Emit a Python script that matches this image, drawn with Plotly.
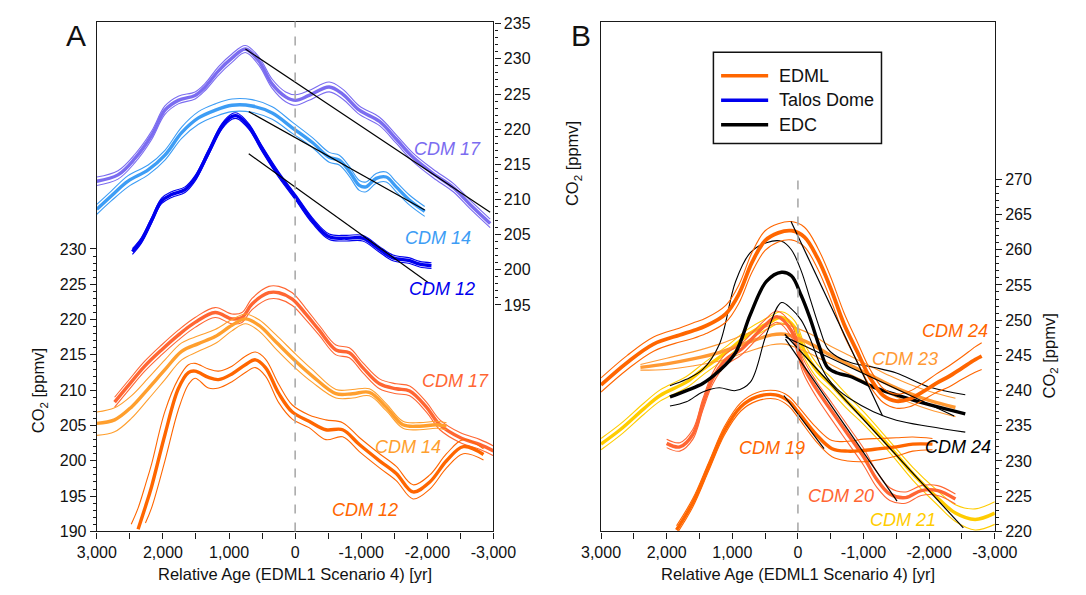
import plotly.graph_objects as go

FONT = "Liberation Sans, Arial, Helvetica, sans-serif"
W, H = 1086, 595

# ---------------- colours ----------------
C_PURPLE = "#7b6cf0"
C_LBLUE = "#3d9df5"
C_BLUE = "#0000ee"
C_ORED = "#ff6633"
C_LORANGE = "#ff9f2e"
C_ORANGE = "#ff6600"
C_YELLOW = "#ffcc00"
C_BLACK = "#000000"

# ---------------- axis ticks ----------------
X_TICKS = [3000, 2000, 1000, 0, -1000, -2000, -3000]
X_TICKTEXT = ["3,000", "2,000", "1,000", "0", "-1,000", "-2,000", "-3,000"]
X_MINOR = [2500, 1500, 500, -500, -1500, -2500]
YA_LEFT_TICKS = [190, 195, 200, 205, 210, 215, 220, 225, 230]
YA_RIGHT_TICKS = [195, 200, 205, 210, 215, 220, 225, 230, 235]
YB_RIGHT_TICKS = [220, 225, 230, 235, 240, 245, 250, 255, 260, 265, 270]

# ================= PANEL A : Talos Dome (right axis) =================
A_T17_age = [3000, 2680, 2427, 2173, 1970, 1768, 1514, 1362, 1159, 956, 753, 550, 347, 144, -8, -210,
             -515, -718, -971, -1276, -1529, -1783, -2087, -2391, -2645, -2950]
A_T17_mid = [212.6, 213.5, 215.8, 219.1, 222.7, 224.1, 224.8, 226.0, 228.3, 230.1, 231.4, 229.7, 226.4,
             224.6, 224.1, 224.8, 226.0, 225.0, 222.7, 221.1, 218.6, 216.0, 213.7, 211.7, 209.3, 206.6]
A_T17_hi = [213.2, 214.1, 216.4, 219.7, 223.3, 224.7, 225.3, 226.5, 228.9, 230.7, 231.9, 230.3, 227.1,
            225.3, 224.9, 225.5, 226.7, 225.7, 223.3, 221.7, 219.2, 216.6, 214.3, 212.3, 209.9, 207.2]
A_T17_lo = [212.0, 212.9, 215.2, 218.5, 222.1, 223.6, 224.3, 225.5, 227.7, 229.5, 230.9, 229.1, 225.8,
            223.9, 223.4, 224.1, 225.3, 224.3, 222.1, 220.5, 218.0, 215.4, 213.1, 211.1, 208.7, 206.0]

A_T14_age = [3000, 2782, 2528, 2224, 1970, 1717, 1463, 1210, 956, 652, 347, 43, -261, -515, -668, -820,
             -971, -1073, -1225, -1377, -1529, -1732, -1960]
A_T14_mid = [208.6, 210.5, 212.6, 214.2, 216.3, 219.5, 221.6, 222.7, 223.4, 223.3, 222.3, 220.2, 218.1,
             216.0, 215.6, 214.0, 212.0, 211.8, 213.0, 213.2, 211.8, 209.9, 208.3]
A_T14_hi = [209.3, 211.2, 213.4, 214.9, 217.0, 220.3, 222.5, 223.6, 224.3, 224.2, 223.2, 221.0, 218.8,
            216.7, 216.3, 214.7, 212.7, 212.5, 213.7, 213.9, 212.5, 210.6, 209.0]
A_T14_lo = [207.9, 209.8, 211.8, 213.5, 215.6, 218.7, 220.7, 221.8, 222.5, 222.4, 221.4, 219.4, 217.4,
            215.3, 214.9, 213.3, 211.3, 211.1, 212.3, 212.5, 211.1, 209.2, 207.6]

A_T12_age = [2462, 2325, 2173, 2021, 1869, 1666, 1514, 1311, 1108, 956, 880, 702, 499, 246, -8, -261,
             -515, -769, -1022, -1276, -1479, -1732, -1884, -2062]
A_T12_mid = [202.6, 204.2, 207.0, 209.8, 210.7, 211.4, 213.0, 216.7, 220.4, 221.8, 221.9, 220.4, 217.2,
             213.5, 210.3, 207.0, 204.7, 204.5, 204.5, 202.9, 201.7, 201.3, 200.8, 200.6]
A_T12_hi = [203.0, 204.6, 207.4, 210.2, 211.1, 211.8, 213.4, 217.1, 220.8, 222.2, 222.3, 220.8, 217.6,
            213.9, 210.7, 207.4, 205.1, 204.9, 204.9, 203.3, 202.1, 201.7, 201.2, 201.0]
A_T12_lo = [202.2, 203.8, 206.6, 209.4, 210.3, 211.0, 212.6, 216.3, 220.0, 221.4, 221.5, 220.0, 216.8,
            213.1, 209.9, 206.6, 204.3, 204.1, 204.1, 202.5, 201.3, 200.9, 200.4, 200.2]

# linear fits (black), panel A, right axis
A_FIT17_age, A_FIT17_val = [753, -2950], [231.4, 208.2]
A_FIT14_age, A_FIT14_val = [702, -1960], [222.5, 208.5]
A_FIT12_age, A_FIT12_val = [702, -2011], [216.5, 198.2]

# ================= PANEL A : EDML (left axis) =================
A_E17_age = [2731, 2528, 2275, 2021, 1768, 1514, 1210, 956, 804, 652, 398, 246, 43, -160, -363, -617,
             -819, -1022, -1276, -1529, -1732, -1986, -2189, -2493, -2798, -3000]
A_E17_mid = [208.3, 210.6, 213.4, 215.7, 217.8, 219.6, 221.0, 220.1, 220.3, 222.2, 223.8, 223.8, 222.9,
             220.8, 218.5, 215.7, 215.3, 213.2, 210.9, 210.2, 209.9, 207.6, 205.1, 203.3, 202.3, 201.4]
A_E17_hi = [209.0, 211.3, 214.1, 216.4, 218.5, 220.3, 221.7, 220.8, 221.0, 223.0, 224.7, 224.7, 223.8,
            221.6, 219.2, 216.4, 216.0, 213.9, 211.6, 210.9, 210.6, 208.3, 205.8, 204.0, 203.0, 202.1]
A_E17_lo = [207.6, 209.9, 212.7, 215.0, 217.1, 218.9, 220.3, 219.4, 219.6, 221.4, 222.9, 222.9, 222.0,
            220.0, 217.8, 215.0, 214.6, 212.5, 210.2, 209.5, 209.2, 206.9, 204.4, 202.6, 201.6, 200.7]

A_E14_age = [3000, 2731, 2478, 2224, 1970, 1717, 1463, 1210, 956, 753, 550, 297, -8, -261, -617, -870,
             -1123, -1377, -1631, -1884, -2138, -2290]
A_E14_mid = [205.3, 205.8, 207.6, 210.2, 212.9, 215.5, 216.6, 217.6, 219.2, 220.1, 219.2, 216.9, 214.1,
             212.0, 209.5, 209.5, 209.7, 207.6, 205.1, 204.9, 205.1, 204.9]
A_E14_hi = [206.9, 207.5, 209.2, 211.7, 214.3, 216.7, 217.7, 218.6, 220.0, 220.8, 220.0, 217.9, 215.1,
            212.9, 210.1, 210.1, 210.2, 208.1, 205.6, 205.4, 205.6, 205.4]
A_E14_lo = [203.6, 204.1, 206.0, 208.7, 211.5, 214.3, 215.5, 216.6, 218.4, 219.4, 218.4, 215.9, 213.1,
            211.1, 208.9, 208.9, 209.2, 207.1, 204.6, 204.4, 204.6, 204.4]

A_E12_age = [2480, 2376, 2265, 2173, 1970, 1768, 1615, 1514, 1311, 1159, 956, 753, 601, 449, 246, 43,
             -210, -464, -718, -971, -1276, -1529, -1783, -2037, -2290, -2544, -2849]
A_E12_mid = [None, 190.3, 193.5, 196.3, 203.7, 210.2, 212.5, 212.7, 211.8, 211.5, 212.3, 213.6, 214.3,
             213.2, 209.5, 206.9, 205.6, 204.4, 204.4, 202.3, 200.0, 198.2, 195.6, 197.0, 200.0, 202.0, 200.9]
A_E12_hi = [191.0, 193.3, 196.6, 199.5, 207.0, 211.6, 213.6, 213.8, 213.0, 212.7, 213.4, 214.8, 215.4,
            214.4, 210.8, 207.9, 206.5, 205.8, 205.4, 203.3, 201.0, 199.2, 196.6, 198.0, 201.0, 203.0, 201.7]
A_E12_lo = [None, None, 191.2, 193.3, 200.0, 207.2, 210.8, 211.7, 210.3, 210.3, 211.2, 212.5, 213.2,
            212.0, 208.2, 205.9, 204.7, 203.0, 203.4, 201.3, 199.0, 197.2, 194.6, 196.0, 199.0, 201.0, 200.1]

# ================= PANEL B =================
B_E24_age = [3000, 2600, 2200, 1800, 1600, 1400, 1100, 900, 700, 500, 300, 100, -100, -300, -500, -700,
             -900, -1100, -1300, -1500, -1700, -1900, -2100, -2300, -2500, -2700, -2800]
B_E24_mid = [240.8, 244.0, 246.6, 247.9, 248.5, 249.2, 250.9, 253.7, 258.2, 261.3, 262.4, 262.7, 261.8,
             258.8, 254.5, 249.5, 245.6, 241.8, 239.3, 238.5, 238.8, 239.8, 241.0, 242.0, 243.2, 244.4, 244.9]
B_E24_hi = [241.8, 245.0, 247.6, 248.9, 249.6, 250.3, 252.1, 255.0, 259.6, 262.7, 263.7, 264.0, 263.2,
            260.3, 256.1, 251.1, 247.0, 243.0, 240.3, 239.5, 239.9, 241.0, 242.3, 243.5, 244.8, 246.2, 246.8]
B_E24_lo = [239.8, 243.0, 245.6, 246.9, 247.4, 248.1, 249.7, 252.4, 256.8, 259.9, 261.1, 261.4, 260.4,
            257.3, 252.9, 247.9, 244.2, 240.6, 238.3, 237.5, 237.7, 238.6, 239.7, 240.5, 241.6, 242.6, 243.0]

B_E23_age = [2400, 2000, 1600, 1200, 800, 400, 200, 0, -200, -500, -800, -1100, -1400, -1700, -2000, -2400]
B_E23_mid = [243.3, 243.8, 244.5, 245.4, 246.7, 247.9, 248.0, 247.4, 246.6, 245.0, 243.6, 242.2, 240.8,
             239.6, 238.6, 237.6]
B_E23_hi = [243.7, 244.6, 245.5, 246.6, 248.0, 249.3, 249.4, 248.8, 248.0, 246.3, 244.9, 243.5, 242.1,
            240.9, 239.9, 238.9]
B_E23_lo = [242.9, 243.0, 243.5, 244.2, 245.4, 246.5, 246.6, 246.0, 245.2, 243.7, 242.3, 240.9, 239.5,
            238.3, 237.3, 236.3]

B_D24_age = [1950, 1700, 1450, 1200, 950, 725, 480, 250, 100, -50, -180, -325, -450, -600, -800, -1150,
             -1500, -2000, -2550]
B_D24_mid = [239.1, 240.0, 241.0, 242.8, 245.4, 250.8, 255.5, 256.8, 256.3, 253.5, 250.4, 246.3, 243.3,
             242.5, 242.0, 240.5, 239.4, 238.0, 236.7]
B_D24_hi = [240.7, 241.6, 243.0, 246.5, 255.5, 259.6, 261.0, 261.2, 260.0, 257.0, 253.2, 249.0, 246.0,
            244.8, 244.0, 243.3, 242.5, 240.5, 239.4]
B_D24_lo = [237.8, 238.4, 239.8, 240.4, 240.0, 241.2, 248.0, 252.5, 251.6, 250.0, 247.5, 244.0, 241.8,
            240.2, 238.8, 237.0, 235.8, 234.9, 234.1]

B_E21_age = [3000, 2700, 2350, 2100, 1700, 1450, 1100, 750, 450, 250, 50, -100, -300, -500, -750, -1000,
             -1400, -1750, -2100, -2400, -2700, -3000]
B_E21_mid = [232.4, 234.5, 237.4, 239.3, 241.2, 243.0, 245.4, 248.0, 249.6, 250.4, 249.0, 245.6, 242.7,
             240.9, 238.4, 236.1, 232.0, 228.2, 225.0, 222.6, 221.7, 222.6]
B_E21_hi = [233.2, 235.3, 238.2, 240.1, 242.0, 243.8, 246.2, 248.8, 250.4, 251.2, 249.9, 246.6, 243.7,
            241.9, 239.4, 237.0, 232.8, 229.1, 226.0, 223.8, 223.2, 224.2]
B_E21_lo = [231.6, 233.7, 236.6, 238.5, 240.4, 242.2, 244.6, 247.2, 248.8, 249.6, 248.1, 244.6, 241.7,
            239.9, 237.4, 235.2, 231.2, 227.3, 224.0, 221.4, 220.2, 221.0]

B_E20_age = [2000, 1800, 1600, 1450, 1300, 1100, 870, 530, 320, 100, -80, -275, -520, -760, -1000, -1200,
             -1400, -1640, -1880, -2130, -2400]
B_E20_mid = [232.5, 232.0, 233.8, 238.0, 241.7, 244.4, 245.8, 249.0, 250.5, 248.5, 243.5, 240.3, 237.0,
             233.8, 230.6, 227.4, 225.3, 224.8, 225.8, 225.8, 224.6]
B_E20_hi = [233.1, 232.6, 234.5, 238.8, 242.5, 245.2, 246.6, 249.8, 251.3, 249.4, 244.5, 241.4, 238.2,
            235.0, 231.8, 228.5, 226.2, 225.6, 226.5, 226.5, 225.3]
B_E20_lo = [231.9, 231.4, 233.1, 237.2, 240.9, 243.6, 245.0, 248.2, 249.7, 247.6, 242.5, 239.2, 235.8,
            232.6, 229.4, 226.3, 224.4, 224.0, 225.1, 225.1, 223.9]

B_E19_age = [1850, 1600, 1360, 1120, 870, 630, 340, 140, 0, -275, -520, -760, -1000, -1250, -1500, -1750, -2050]
B_E19_mid = [220.2, 224.1, 229.2, 234.3, 237.7, 239.1, 239.4, 238.5, 237.0, 233.8, 231.75, 231.4, 231.5,
             231.75, 232.0, 232.4, 232.4]
B_E19_hi = [220.8, 224.7, 229.8, 234.9, 238.3, 239.7, 240.0, 239.2, 237.8, 234.8, 232.9, 232.8, 233.1,
            233.2, 233.3, 233.4, 233.2]
B_E19_lo = [219.6, 223.5, 228.6, 233.7, 237.1, 238.5, 238.8, 237.8, 236.2, 232.8, 230.6, 230.0, 229.9,
            230.2, 230.7, 231.4, 231.6]

# linear fits (black), panel B
B_FIT24_age, B_FIT24_val = [105, -1290], [264.0, 236.4]
B_FIT23_age, B_FIT23_val = [190, -2380], [247.6, 236.4]
B_FIT20_age, B_FIT20_val = [190, -1510], [247.3, 224.3]
B_FIT21_age, B_FIT21_val = [200, -2520], [248.0, 220.5]
B_FIT19_age, B_FIT19_val = [214, -398], [239.3, 231.75]

LEGEND_NAMES = ["EDML", "Talos Dome", "EDC"]
LEGEND_COLORS = [C_ORANGE, C_BLUE, C_BLACK]

# ---------------- layout geometry (paper fractions) ----------------
AX0, AX1 = 80 / W, 493 / W
BX0, BX1 = 605 / W, 1015 / W
Y0, Y1 = 1 - 539 / H, 1 - 16 / H

fig = go.Figure()


def band(age, lo, mid, hi, color, xa, ya, wthick=3.4, wthin=1.1):
    for vals, w in ((lo, wthin), (hi, wthin), (mid, wthick)):
        fig.add_trace(go.Scatter(x=age, y=vals, mode="lines", xaxis=xa, yaxis=ya,
                                 line=dict(color=color, width=w, shape="spline", smoothing=1.0),
                                 showlegend=False, hoverinfo="skip"))


def fit(age, val, xa, ya):
    fig.add_trace(go.Scatter(x=age, y=val, mode="lines", xaxis=xa, yaxis=ya,
                             line=dict(color=C_BLACK, width=1.2), showlegend=False, hoverinfo="skip"))


# Panel A
band(A_T17_age, A_T17_lo, A_T17_mid, A_T17_hi, C_PURPLE, "x", "y2")
band(A_T14_age, A_T14_lo, A_T14_mid, A_T14_hi, C_LBLUE, "x", "y2")
band(A_T12_age, A_T12_lo, A_T12_mid, A_T12_hi, C_BLUE, "x", "y2")
fit(A_FIT17_age, A_FIT17_val, "x", "y2")
fit(A_FIT14_age, A_FIT14_val, "x", "y2")
fit(A_FIT12_age, A_FIT12_val, "x", "y2")
band(A_E17_age, A_E17_lo, A_E17_mid, A_E17_hi, C_ORED, "x", "y")
band(A_E14_age, A_E14_lo, A_E14_mid, A_E14_hi, C_LORANGE, "x", "y")
band(A_E12_age, A_E12_lo, A_E12_mid, A_E12_hi, C_ORANGE, "x", "y")

# Panel B
band(B_E21_age, B_E21_lo, B_E21_mid, B_E21_hi, C_YELLOW, "x2", "y3")
band(B_E23_age, B_E23_lo, B_E23_mid, B_E23_hi, "#ff9933", "x2", "y3")
band(B_E20_age, B_E20_lo, B_E20_mid, B_E20_hi, C_ORED, "x2", "y3")
band(B_E19_age, B_E19_lo, B_E19_mid, B_E19_hi, C_ORANGE, "x2", "y3")
band(B_D24_age, B_D24_lo, B_D24_mid, B_D24_hi, C_BLACK, "x2", "y3", wthick=3.4, wthin=1.1)
band(B_E24_age, B_E24_lo, B_E24_mid, B_E24_hi, C_ORANGE, "x2", "y3", wthick=3.8)
for a, v in ((B_FIT24_age, B_FIT24_val), (B_FIT23_age, B_FIT23_val), (B_FIT20_age, B_FIT20_val),
             (B_FIT21_age, B_FIT21_val), (B_FIT19_age, B_FIT19_val)):
    fit(a, v, "x2", "y3")

AXC = "#1a1a1a"
tickfont = dict(family=FONT, size=16, color="#111")
xcommon = dict(range=[3000, -3000], tickmode="array", tickvals=X_TICKS, ticktext=X_TICKTEXT,
               ticks="outside", ticklen=6, tickwidth=1, tickcolor=AXC, showline=True, linecolor=AXC,
               linewidth=1.3, mirror=True, showgrid=False, zeroline=False, tickfont=tickfont,
               minor=dict(tickmode="array", tickvals=X_MINOR, ticks="outside", ticklen=6,
                          tickcolor=AXC, tickwidth=1, showgrid=False))


def minors(lo, hi):
    return [v for v in range(lo, hi + 1) if v % 5 != 0]


ycommon = dict(ticks="outside", ticklen=6, tickwidth=1, tickcolor=AXC, showline=True, linecolor=AXC,
               linewidth=1.3, showgrid=False, zeroline=False, tickfont=tickfont, tickmode="array")

fig.update_layout(
    width=W, height=H, margin=dict(l=0, r=0, t=0, b=0),
    paper_bgcolor="white", plot_bgcolor="white",
    font=dict(family=FONT, color="#111"),
    showlegend=False,
    xaxis=dict(domain=[AX0, AX1], anchor="y", **xcommon),
    xaxis2=dict(domain=[BX0, BX1], anchor="y3", **xcommon),
    yaxis=dict(domain=[Y0, Y1], anchor="x", range=[190, 262.2], tickvals=YA_LEFT_TICKS,
               ticktext=[str(v) for v in YA_LEFT_TICKS],
               minor=dict(tickmode="array", tickvals=minors(190, 230), ticks="outside", ticklen=3,
                          tickcolor=AXC, tickwidth=1), **ycommon),
    yaxis2=dict(domain=[Y0, Y1], anchor="x", overlaying="y", side="right", range=[162.8, 235.3],
                tickvals=YA_RIGHT_TICKS, ticktext=[str(v) for v in YA_RIGHT_TICKS],
                minor=dict(tickmode="array", tickvals=minors(195, 235), ticks="outside", ticklen=3,
                           tickcolor=AXC, tickwidth=1), **ycommon),
    yaxis3=dict(domain=[Y0, Y1], anchor="x2", side="right", mirror=True, range=[220, 292.4],
                tickvals=YB_RIGHT_TICKS, ticktext=[str(v) for v in YB_RIGHT_TICKS],
                minor=dict(tickmode="array", tickvals=minors(220, 270), ticks="outside", ticklen=3,
                           tickcolor=AXC, tickwidth=1), **ycommon),
)

# dashed zero lines
fig.add_shape(type="line", xref="x", yref="y domain", x0=0, x1=0, y0=0, y1=1,
              line=dict(color="#aaaaaa", width=1.6, dash="dash"))
fig.add_shape(type="line", xref="x2", yref="y3", x0=0, x1=0, y0=220, y1=270,
              line=dict(color="#aaaaaa", width=1.6, dash="dash"))

# legend box (panel B)
fig.add_shape(type="rect", xref="paper", yref="paper", x0=722 / W, x1=897 / W,
              y0=1 - 141 / H, y1=1 - 47.5 / H, line=dict(color="#111", width=1.5), fillcolor="white")
for i, (n, c) in enumerate(zip(LEGEND_NAMES, LEGEND_COLORS)):
    yy = 1 - (71.5 + 25.2 * i) / H
    fig.add_shape(type="line", xref="paper", yref="paper", x0=730 / W, x1=779 / W, y0=yy, y1=yy,
                  line=dict(color=c, width=3.5))
    fig.add_annotation(text=n, x=788 / W, y=yy, xref="paper", yref="paper", showarrow=False,
                       xanchor="left", yanchor="middle", font=dict(family=FONT, size=18, color="#111"))


def ann(text, x, y, size=16, color="#111", angle=0, italic=False):
    t = f"<i>{text}</i>" if italic else text
    fig.add_annotation(text=t, x=x / W, y=1 - y / H, xref="paper", yref="paper", showarrow=False,
                       textangle=angle, font=dict(family=FONT, size=size, color=color),
                       xanchor="center", yanchor="middle")


# panel letters
ann("A", 58, 30, size=30)
ann("B", 584, 30, size=30)
# axis titles
XT = "Relative Age (EDML1 Scenario 4) [yr]"
ann(XT, 286.5, 583, size=16.5)
ann(XT, 810, 583, size=16.5)
YT = "CO<sub>2</sub> [ppmv]"
ann(YT, 20, 395, size=16.5, angle=-90)
ann(YT, 576, 162, size=16.5, angle=-90)
ann(YT, 1072, 359, size=16.5, angle=-90)

# curve labels
ann("CDM 17", 445, 147, size=18, color=C_PURPLE, italic=True)
ann("CDM 14", 435.5, 238, size=18, color=C_LBLUE, italic=True)
ann("CDM 12", 439, 290, size=18, color=C_BLUE, italic=True)
ann("CDM 17", 453.7, 385, size=18, color=C_ORED, italic=True)
ann("CDM 14", 404.3, 452, size=18, color=C_LORANGE, italic=True)
ann("CDM 12", 359, 517, size=18, color=C_ORANGE, italic=True)
ann("CDM 24", 974, 333, size=18, color=C_ORANGE, italic=True)
ann("CDM 23", 922, 362, size=18, color="#ff9933", italic=True)
ann("CDM 24", 977, 452, size=18, color=C_BLACK, italic=True)
ann("CDM 19", 782.5, 453, size=18, color=C_ORANGE, italic=True)
ann("CDM 20", 855, 503, size=18, color=C_ORED, italic=True)
ann("CDM 21", 919, 527, size=18, color=C_YELLOW, italic=True)

fig.write_html("out.html", include_plotlyjs=True, config={"displayModeBar": False},
               post_script="document.body.style.margin='0';")
